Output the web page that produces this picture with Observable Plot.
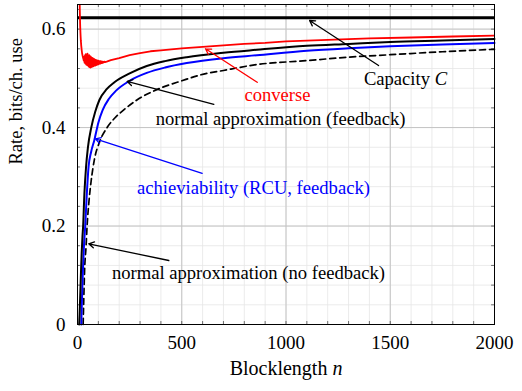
<!DOCTYPE html>
<html>
<head>
<meta charset="utf-8">
<script src="https://cdn.jsdelivr.net/npm/d3@7"></script>
<script src="https://cdn.jsdelivr.net/npm/@observablehq/plot@0.6"></script>
<style>
  html, body { margin: 0; padding: 0; background: #fff; }
  #chart svg { display: block; }
</style>
</head>
<body>
<div id="chart"></div>
<script>
// Channel capacity (bits per channel use)
const capacity = 0.623;

// Converse bound (red); ragged at short blocklengths
const converseN = [9, 10, 11, 12, 13, 14, 15, 16, 18, 20, 22, 25, 28,
  30, 32, 34, 36, 38, 40, 42, 44, 46, 48, 50, 52, 54, 56, 58, 60, 62, 64, 66, 68, 70,
  72, 74, 76, 78, 80, 82, 84, 86, 88, 90, 92, 94, 96, 98, 100, 102, 104, 106, 108, 110,
  112, 114, 116, 118, 120, 124, 128, 132, 140,
  160, 200, 250, 300, 350, 400, 500, 600, 700, 800, 900, 1000, 1200, 1400, 1600, 1800, 2000];
const converseR = [0.70, 0.665, 0.64, 0.62, 0.605, 0.594, 0.585, 0.577, 0.566, 0.558, 0.551, 0.545, 0.540,
  0.536, 0.544, 0.532, 0.547, 0.530, 0.549, 0.528, 0.548, 0.527, 0.550, 0.526, 0.546, 0.524, 0.547, 0.523, 0.545, 0.522, 0.544, 0.523, 0.542, 0.524,
  0.541, 0.524, 0.540, 0.525, 0.539, 0.526, 0.538, 0.526, 0.537, 0.527, 0.537, 0.528, 0.536, 0.528, 0.536, 0.529, 0.535, 0.530, 0.535, 0.530,
  0.535, 0.531, 0.534, 0.531, 0.534, 0.532, 0.534, 0.533, 0.534,
  0.537, 0.541, 0.547, 0.551, 0.555, 0.557, 0.561, 0.564, 0.567, 0.570, 0.572, 0.575, 0.578, 0.581, 0.583, 0.585, 0.587];

// Normal approximation with feedback (solid black)
const fbApproxN = [8, 10, 12, 14, 17, 20, 24, 27, 33, 41, 50, 66, 85, 105, 140, 177, 250, 332, 420, 524, 700, 860, 1100, 1300, 1500, 1750, 2000];
const fbApproxR = [0, 0.02, 0.045, 0.07, 0.11, 0.145, 0.18, 0.20, 0.265, 0.32, 0.36, 0.40, 0.432, 0.456, 0.478, 0.492, 0.510, 0.525, 0.535, 0.543, 0.552, 0.558, 0.566, 0.570, 0.574, 0.577, 0.580];

// Achievability, RCU bound with feedback (blue)
const rcuN = [18, 22, 26, 31, 37, 44, 53, 65, 81, 100, 121, 150, 185, 250, 332, 420, 524, 700, 860, 1100, 1300, 1500, 1750, 2000];
const rcuR = [0, 0.06, 0.11, 0.16, 0.20, 0.26, 0.32, 0.35, 0.375, 0.41, 0.436, 0.458, 0.475, 0.495, 0.511, 0.522, 0.531, 0.541, 0.547, 0.556, 0.561, 0.565, 0.569, 0.572];

// Normal approximation without feedback (dashed black)
const noFbApproxN = [27, 30, 34, 41, 46, 55, 65, 81, 105, 142, 180, 222, 285, 397, 500, 590, 700, 860, 1100, 1300, 1500, 1750, 2000];
const noFbApproxR = [0, 0.05, 0.11, 0.158, 0.20, 0.25, 0.29, 0.335, 0.37, 0.40, 0.42, 0.436, 0.456, 0.48, 0.495, 0.507, 0.516, 0.528, 0.536, 0.543, 0.548, 0.554, 0.559];

// Tick values
const xTicks = [0, 500, 1000, 1500, 2000];
const yTicks = [0, 0.2, 0.4, 0.6];

// Curve labels: text, colour, anchor (n, rate)
const labelText  = ["Capacity C", "converse", "normal approximation (feedback)", "achieviability (RCU, feedback)", "normal approximation (no feedback)"];
const labelColor = ["black", "red", "black", "blue", "black"];
const labelN     = [1573, 959, 974, 844, 820];
const labelR     = [0.498, 0.467, 0.418, 0.278, 0.104];

// Pointer arrows from each label to its curve: tail (n1, r1) -> head (n2, r2)
const arrowColor = ["black", "red", "black", "blue", "black"];
const arrowDash  = [null, null, null, null, "6,4"];
const arrowN1 = [1444, 862, 654, 598, 438];
const arrowR1 = [0.526, 0.492, 0.447, 0.307, 0.130];
const arrowN2 = [1113, 614, 238, 86, 54];
const arrowR2 = [0.6175, 0.560, 0.494, 0.377, 0.164];

const zip = (xs, ys) => xs.map((x, i) => ({n: x, r: ys[i]}));
const converse = zip(converseN, converseR);
const fbApprox = zip(fbApproxN, fbApproxR);
const rcu = zip(rcuN, rcuR);
const noFbApprox = zip(noFbApproxN, noFbApproxR);
const labels = labelText.map((t, i) => ({t, c: labelColor[i], n: labelN[i], r: labelR[i]}));
const arrows = arrowColor.map((c, i) => ({c, d: arrowDash[i], n1: arrowN1[i], r1: arrowR1[i], n2: arrowN2[i], r2: arrowR2[i]}));

const xMax = 2000, yMax = 0.65;
const xMinor = d3.range(0, xMax + 1, 100);
const yMinor = d3.range(0, 0.6501, 0.04);

const serif = "'Times New Roman', 'Liberation Serif', 'DejaVu Serif', serif";

const chart = Plot.plot({
  width: 522,
  height: 391,
  marginLeft: 77,
  marginRight: 28,
  marginTop: 4,
  marginBottom: 67,
  style: {fontSize: "18px", background: "white", color: "black"},
  x: {domain: [0, xMax]},
  y: {domain: [0, yMax]},
  marks: [
    // minor grid
    Plot.ruleX(xMinor, {stroke: "#e6e6e6", strokeWidth: 0.8}),
    Plot.ruleY(yMinor, {stroke: "#e6e6e6", strokeWidth: 0.8}),
    // major grid
    Plot.ruleX(xTicks, {stroke: "#c4c4c4", strokeWidth: 1}),
    Plot.ruleY(yTicks, {stroke: "#c4c4c4", strokeWidth: 1}),
    // tick marks on all four sides
    Plot.ruleX(xMinor, {y1: 0, y2: 0.006, stroke: "#333", strokeWidth: 0.7}),
    Plot.ruleX(xMinor, {y1: yMax - 0.006, y2: yMax, stroke: "#333", strokeWidth: 0.7}),
    Plot.ruleY(yMinor, {x1: 0, x2: 14, stroke: "#333", strokeWidth: 0.7}),
    Plot.ruleY(yMinor, {x1: xMax - 14, x2: xMax, stroke: "#333", strokeWidth: 0.7}),
    // axes labels
    Plot.axisX(xTicks, {tickSize: 0, tickPadding: 11, fontSize: 19, label: null, tickFormat: d => String(d)}),
    Plot.axisY(yTicks, {tickSize: 0, tickPadding: 12, fontSize: 19, label: null, tickFormat: d => String(d)}),
    Plot.text(["Blocklength n"], {frameAnchor: "bottom", dy: 50, fontSize: 20}),
    Plot.text(["Rate, bits/ch. use"], {frameAnchor: "left", dx: -61, rotate: -90, fontSize: 18.5}),
    // curves
    Plot.ruleY([capacity], {stroke: "black", strokeWidth: 3}),
    Plot.line(noFbApprox, {x: "n", y: "r", stroke: "black", strokeWidth: 1.7, strokeDasharray: "6,4", curve: "monotone-x"}),
    Plot.line(rcu, {x: "n", y: "r", stroke: "blue", strokeWidth: 2, curve: "monotone-x"}),
    Plot.line(fbApprox, {x: "n", y: "r", stroke: "black", strokeWidth: 2, curve: "monotone-x"}),
    Plot.line(converse, {x: "n", y: "r", stroke: "red", strokeWidth: 1.8, clip: true}),
    // pointers and labels
    Plot.arrow(arrows, {x1: "n1", y1: "r1", x2: "n2", y2: "r2", stroke: "c", strokeDasharray: "d", strokeWidth: 1.3, headLength: 7, bend: 0}),
    Plot.text(labels, {x: "n", y: "r", text: "t", fill: "c", fontSize: 18.6}),
    Plot.frame({stroke: "black", strokeWidth: 1})
  ]
});

// serif type throughout, italic math symbols inside labels
d3.select(chart).attr("font-family", serif).style("font-family", serif);
d3.select(chart).selectAll("g, text").attr("font-family", null);
d3.select(chart).selectAll("text").style("font-family", serif).each(function () {
  const s = this.textContent;
  if (s === "Blocklength n" || s === "Capacity C") {
    const [word, sym] = s.split(" ");
    this.textContent = "";
    d3.select(this).append("tspan").text(word + " ");
    d3.select(this).append("tspan").attr("font-style", "italic").text(sym);
  }
});

document.getElementById("chart").appendChild(chart);
</script>
</body>
</html>
